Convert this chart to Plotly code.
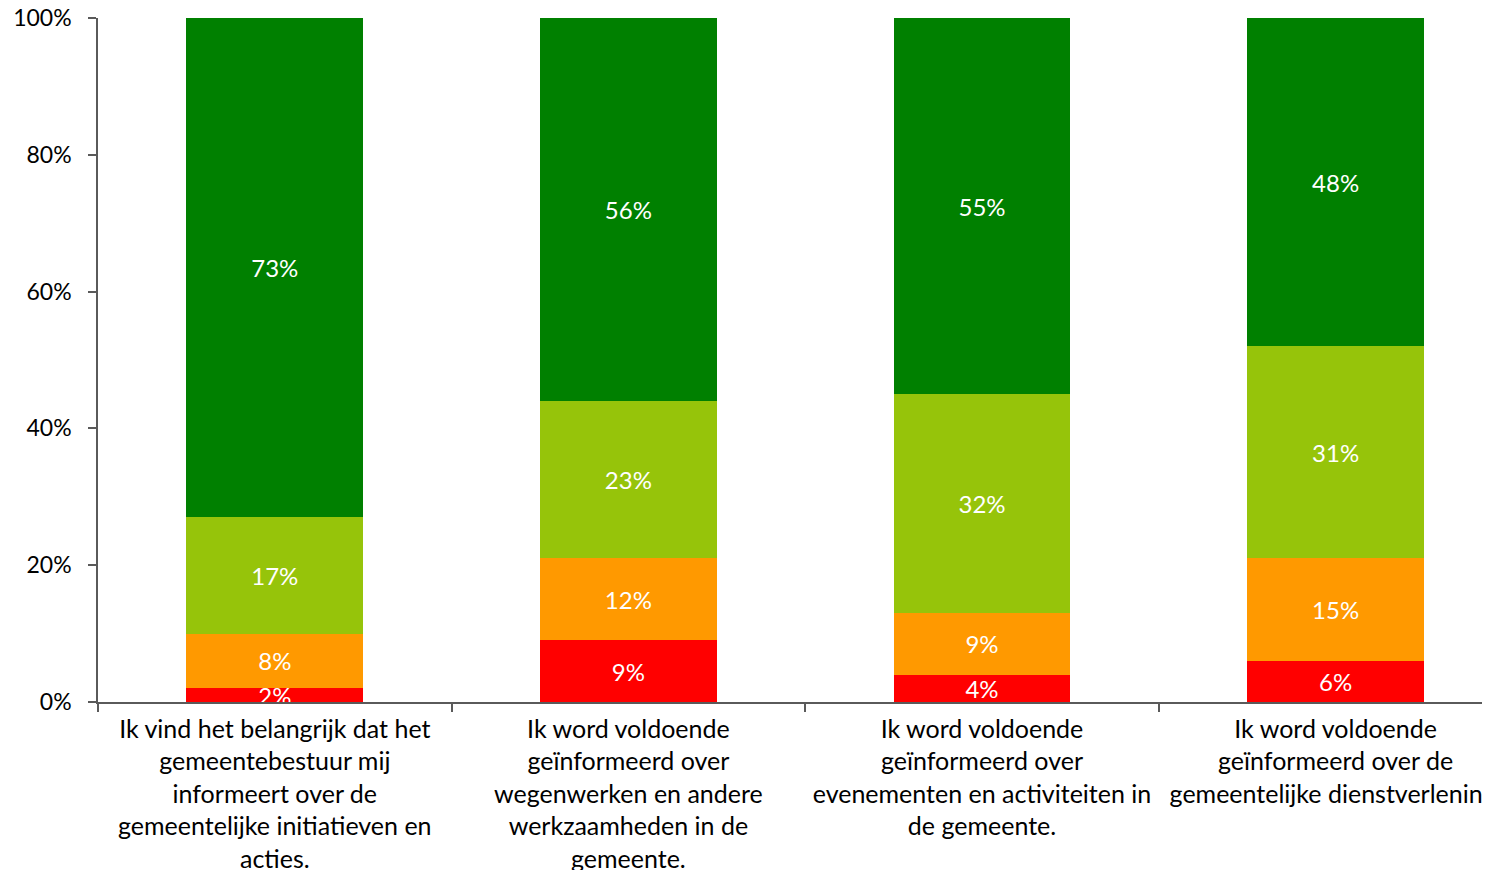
import plotly.graph_objects as go

categories = [
    "Ik vind het belangrijk dat het<br>gemeentebestuur mij<br>informeert over de<br>gemeentelijke initiatieven en<br>acties.",
    "Ik word voldoende<br>geïnformeerd over<br>wegenwerken en andere<br>werkzaamheden in de<br>gemeente.",
    "Ik word voldoende<br>geïnformeerd over<br>evenementen en activiteiten in<br>de gemeente.",
    "Ik word voldoende<br>geïnformeerd over de<br>gemeentelijke dienstverlening.",
]
red = [2, 9, 4, 6]
orange = [8, 12, 9, 15]
lightgreen = [17, 23, 32, 31]
darkgreen = [73, 56, 55, 48]
series = [
    ("Helemaal niet akkoord", red, "#FF0000"),
    ("Eerder niet akkoord", orange, "#FF9900"),
    ("Eerder akkoord", lightgreen, "#96C40A"),
    ("Helemaal akkoord", darkgreen, "#008000"),
]
ytick_vals = [0, 20, 40, 60, 80, 100]
ytick_text = ["0%", "20%", "40%", "60%", "80%", "100%"]

FONT = "Lato"
fig = go.Figure()
xs = list(range(len(categories)))
for name, vals, color in series:
    fig.add_trace(go.Bar(
        x=xs, y=vals, name=name, marker=dict(color=color, line=dict(width=0)),
        text=[f"{v}%" for v in vals], textposition="inside", insidetextanchor="middle",
        textfont=dict(color="white", size=24, family=FONT), textangle=0,
        showlegend=False, cliponaxis=True,
    ))

W, H = 1482, 862
L, T, B = 90, 10, 168
band = 353.6
plot_w = W + 8 - 98
fig.update_layout(
    barmode="stack", bargap=0.5, width=W, height=H,
    margin=dict(l=L, r=0, t=T, b=B, autoexpand=False),
    plot_bgcolor="white", paper_bgcolor="white",
    uniformtext=dict(minsize=24, mode="show"),
    font=dict(family=FONT, color="black"),
)
fig.update_xaxes(
    type="linear", range=[-0.5, -0.5 + plot_w / band],
    tickmode="array", tickvals=xs, ticktext=categories,
    ticks="", showline=True, linecolor="#5a5a5a", linewidth=1.5,
    ticklabeloverflow="allow", ticklabelstandoff=4,
    showgrid=False, zeroline=False, tickfont=dict(size=25, color="black", family=FONT),
    automargin=False,
)
fig.update_xaxes(minor=dict(tickmode="array", tickvals=[-0.5, 0.5, 1.5, 2.5, 3.5],
                            ticks="outside", ticklen=8, tickcolor="#5a5a5a", tickwidth=1.5, showgrid=False))
fig.update_yaxes(
    range=[0, 100], tickmode="array", tickvals=ytick_vals, ticktext=ytick_text,
    ticks="outside", ticklen=8, tickcolor="#5a5a5a", tickwidth=1.5, ticklabelstandoff=12,
    ticklabeloverflow="allow",
    showline=True, linecolor="#5a5a5a", linewidth=1.5, showgrid=False, zeroline=False,
    tickfont=dict(size=23, color="black", family=FONT), automargin=False,
)
fig.write_html("out.html")
